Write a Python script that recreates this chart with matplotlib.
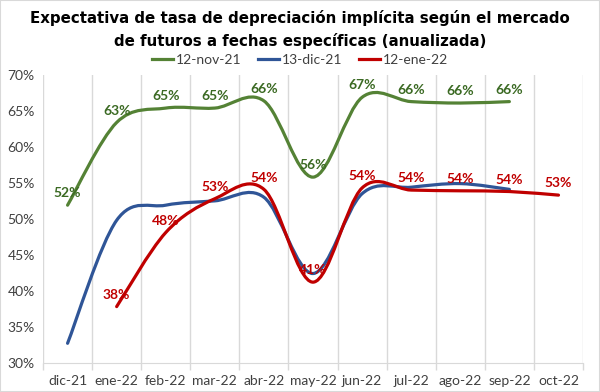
import numpy as np
import matplotlib
matplotlib.use("Agg")
import matplotlib.pyplot as plt
from matplotlib.path import Path
from matplotlib.patches import PathPatch, Rectangle

# Datos (valores en %)
meses = ["dic-21", "ene-22", "feb-22", "mar-22", "abr-22", "may-22",
         "jun-22", "jul-22", "ago-22", "sep-22", "oct-22"]
nov21 = [51.9, 63.4, 65.4, 65.4, 66.4, 55.8, 66.9, 66.3, 66.1, 66.3, np.nan]
dic21 = [32.7, 49.8, 51.9, 52.5, 53.0, 42.4, 53.5, 54.4, 54.9, 54.1, np.nan]
ene22 = [np.nan, 37.8, 48.1, 52.8, 54.1, 41.2, 54.3, 54.0, 53.9, 53.8, 53.3]

series = [
    ("12-nov-21", nov21, "#548235", "#3B6A23", True),
    ("13-dic-21", dic21, "#2F5597", None, False),
    ("12-ene-22", ene22, "#C00000", "#C00000", True),
]

titulo = ["Expectativa de tasa de depreciación implícita según el mercado",
          "de futuros a fechas específicas (anualizada)"]

plt.rcParams["font.family"] = ["Lato", "DejaVu Sans"]


def curva_suave(x, y):
    # suavizado tipo Excel: bezier con puntos de control de vecinos
    pts = np.column_stack([x, y])
    n = len(pts)
    verts = [pts[0]]
    codes = [Path.MOVETO]
    for i in range(n - 1):
        p_prev = pts[i - 1] if i > 0 else pts[i]
        p_next2 = pts[i + 2] if i + 2 < n else pts[i + 1]
        c1 = pts[i] + (pts[i + 1] - p_prev) / 6
        c2 = pts[i + 1] - (p_next2 - pts[i]) / 6
        verts += [c1, c2, pts[i + 1]]
        codes += [Path.CURVE4] * 3
    return Path(verts, codes)


fig = plt.figure(figsize=(6, 3.92), dpi=100)
ax = fig.add_axes([0.0717, 0.0747, 0.9, 0.734])

for nombre, vals, color, color_txt, etiquetas in series:
    v = np.array(vals)
    x = np.arange(len(v))
    ok = ~np.isnan(v)
    path = curva_suave(x[ok], v[ok] / 100)
    ax.add_patch(PathPatch(path, fill=False, edgecolor=color, lw=2.3,
                           capstyle="round", joinstyle="round", zorder=3))
    ax.plot([], [], color=color, lw=2.3, label=nombre)
    if etiquetas:
        for xi, yi in zip(x[ok], v[ok]):
            ax.annotate(f"{yi:.0f}%", (xi, yi / 100), xytext=(0, 8.5),
                        textcoords="offset points", ha="center", va="center",
                        fontsize=10, fontweight="bold", color=color_txt, zorder=4)

ax.set_xlim(-0.5, len(meses) - 0.5)
ax.set_ylim(0.30, 0.70)
ax.set_xticks(range(len(meses)))
ax.set_xticklabels(meses)
ax.set_xticks(np.arange(-0.5, len(meses)), minor=True)
ax.set_yticks(np.arange(0.30, 0.701, 0.05))
ax.set_yticklabels([f"{t:.0f}%" for t in np.arange(30, 71, 5)])

ax.grid(True, which="minor", axis="x", color="#D9D9D9", lw=1)
ax.tick_params(axis="x", which="major", length=0, pad=9, labelsize=10, labelcolor="#404040")
ax.tick_params(axis="x", which="minor", length=5, color="#D9D9D9", width=1)
ax.tick_params(axis="y", length=0, pad=6, labelsize=10, labelcolor="#404040")

for s in ["top", "right", "left"]:
    ax.spines[s].set_visible(False)
ax.spines["bottom"].set_color("#D9D9D9")

# titulo en dos lineas
for linea, ypx in zip(titulo, [18, 41]):
    fig.text(0.5, 1 - ypx / 392, linea, ha="center", va="center",
             fontsize=10.8, fontweight="bold", family=["DejaVu Sans"])

fig.legend(loc="center", bbox_to_anchor=(0.5, 1 - 60 / 392), ncol=3,
           frameon=False, fontsize=10, handlelength=1.5, handletextpad=0.2,
           columnspacing=1.2, labelcolor="#404040")

fig.add_artist(Rectangle((0, 0), 1, 1, transform=fig.transFigure, fill=False,
                         ec="#D9D9D9", lw=1.5))

fig.savefig("out.png", dpi=100)
